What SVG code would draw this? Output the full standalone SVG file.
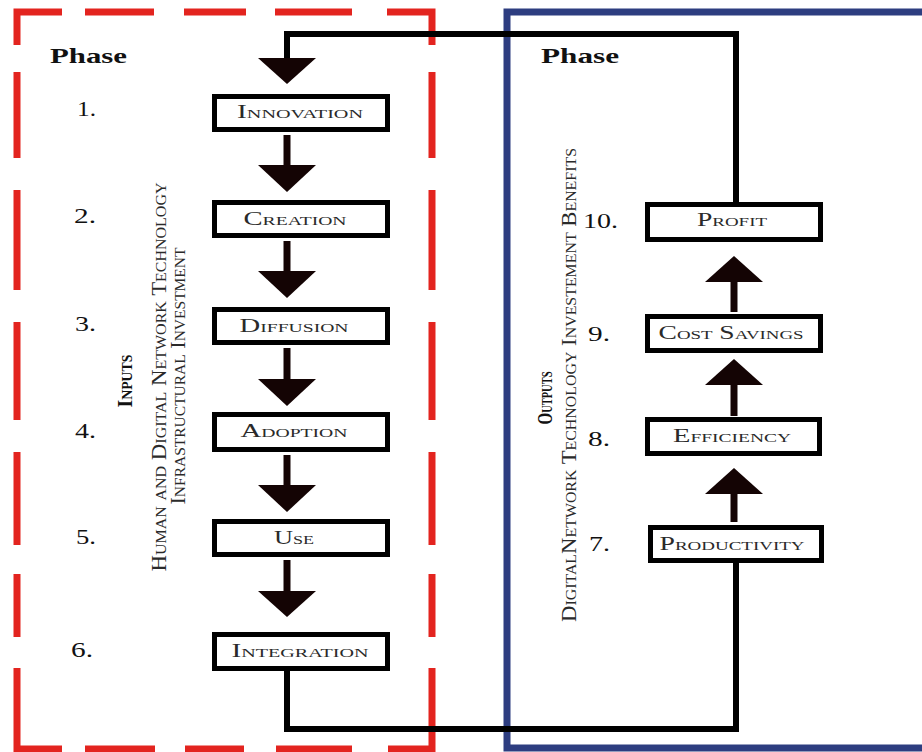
<svg xmlns="http://www.w3.org/2000/svg" width="922" height="752" viewBox="0 0 922 752">
<defs>
<style>
.frame-red{fill:none;stroke:#e3241f;stroke-width:7;}
.frame-blue{fill:none;stroke:#2d3d80;stroke-width:7;}
.box{fill:#fff;stroke:#000;stroke-width:5;}
.lbl{font-family:"Liberation Serif","Times New Roman",serif;font-variant:small-caps;font-size:19px;fill:#2a2a2a;text-anchor:middle;}
.num{font-family:"Liberation Serif","Times New Roman",serif;font-size:22px;fill:#111;}
.phase{font-family:"Liberation Serif","Times New Roman",serif;font-weight:bold;font-size:21px;fill:#111;}
.vt{font-family:"Liberation Serif","Times New Roman",serif;font-variant:small-caps;font-size:20px;fill:#2a2a2a;text-anchor:middle;}
.vtb{font-family:"Liberation Serif","Times New Roman",serif;font-variant:small-caps;font-weight:bold;font-size:20px;fill:#111;text-anchor:middle;}
.conn{fill:none;stroke:#000;stroke-width:6;}
.shaft{stroke:#140404;stroke-width:7;}
.head{fill:#140404;}
</style>
</defs>
<rect width="922" height="752" fill="#fff"/>

<g id="frames">
<path class="frame-red" d="M17 45 V12 H62 M85 12 H154 M184 12 H246 M275 12 H352 M387 12 H432 V45 M17 72 V158 M17 190 V290 M17 322 V420 M17 452 V545 M17 574 V637 M17 668 V749 H62 M85 749 H155 M185 749 H244 M276 749 H352 M388 749 H432 V668 M432 72 V158 M432 190 V290 M432 322 V420 M432 452 V545 M432 574 V637"/>
<path class="frame-blue" d="M930 12 H507 V748 H930"/>
</g>

<g id="labels">
<text class="phase" x="50" y="63" textLength="77" lengthAdjust="spacingAndGlyphs">Phase</text>
<text class="phase" x="541" y="63" textLength="78" lengthAdjust="spacingAndGlyphs">Phase</text>
<text class="num" x="77" y="116" textLength="19" lengthAdjust="spacingAndGlyphs">1.</text>
<text class="num" x="74" y="223" textLength="22" lengthAdjust="spacingAndGlyphs">2.</text>
<text class="num" x="75" y="331" textLength="21" lengthAdjust="spacingAndGlyphs">3.</text>
<text class="num" x="75" y="438" textLength="21" lengthAdjust="spacingAndGlyphs">4.</text>
<text class="num" x="76" y="544" textLength="20" lengthAdjust="spacingAndGlyphs">5.</text>
<text class="num" x="71" y="657" textLength="22" lengthAdjust="spacingAndGlyphs">6.</text>
<text class="num" x="583" y="228" textLength="35" lengthAdjust="spacingAndGlyphs">10.</text>
<text class="num" x="588" y="341" textLength="22" lengthAdjust="spacingAndGlyphs">9.</text>
<text class="num" x="588" y="446" textLength="22" lengthAdjust="spacingAndGlyphs">8.</text>
<text class="num" x="589" y="551" textLength="21" lengthAdjust="spacingAndGlyphs">7.</text>
<text class="vtb" transform="translate(132,381) rotate(-90)" textLength="53" lengthAdjust="spacingAndGlyphs">Inputs</text>
<text class="vt" transform="translate(166,377) rotate(-90)" textLength="389" lengthAdjust="spacingAndGlyphs">Human and Digital Network Technology</text>
<text class="vt" transform="translate(185,376) rotate(-90)" textLength="257" lengthAdjust="spacingAndGlyphs">Infrastructural Investment</text>
<text class="vtb" transform="translate(552,398) rotate(-90)" textLength="53" lengthAdjust="spacingAndGlyphs">Outputs</text>
<text class="vt" transform="translate(576,385) rotate(-90)" textLength="474" lengthAdjust="spacingAndGlyphs">DigitalNetwork Technology Investement Benefits</text>
</g>

<g id="connectors">
<path class="conn" d="M287 60 V34 H736 V202"/>
<path class="conn" d="M287 670 V729 H736 V563"/>
<polygon class="head" points="258,58 316,58 287,84"/>
<line class="shaft" x1="287" y1="135" x2="287" y2="166"/>
<polygon class="head" points="258,165 316,165 287,192"/>
<line class="shaft" x1="287" y1="241" x2="287" y2="272"/>
<polygon class="head" points="258,271 316,271 287,298"/>
<line class="shaft" x1="287" y1="348" x2="287" y2="380"/>
<polygon class="head" points="258,379 316,379 287,406"/>
<line class="shaft" x1="287" y1="455" x2="287" y2="486"/>
<polygon class="head" points="258,485 316,485 287,512"/>
<line class="shaft" x1="287" y1="560" x2="287" y2="592"/>
<polygon class="head" points="258,591 316,591 287,617"/>
<line class="shaft" x1="734" y1="522" x2="734" y2="493"/>
<polygon class="head" points="705,494 763,494 734,468"/>
<line class="shaft" x1="734" y1="416" x2="734" y2="384"/>
<polygon class="head" points="705,385 763,385 734,359"/>
<line class="shaft" x1="734" y1="312" x2="734" y2="281"/>
<polygon class="head" points="705,282 763,282 734,256"/>
</g>

<g id="n-innovation"><rect class="box" x="214.5" y="96.5" width="173" height="33"/><text class="lbl" x="300" y="118" textLength="126" lengthAdjust="spacingAndGlyphs">Innovation</text></g>
<g id="n-creation"><rect class="box" x="214.5" y="202.5" width="173" height="33"/><text class="lbl" x="295" y="225" textLength="103" lengthAdjust="spacingAndGlyphs">Creation</text></g>
<g id="n-diffusion"><rect class="box" x="214.5" y="309.5" width="173" height="33"/><text class="lbl" x="294" y="332" textLength="109" lengthAdjust="spacingAndGlyphs">Diffusion</text></g>
<g id="n-adoption"><rect class="box" x="214.5" y="414.5" width="173" height="35"/><text class="lbl" x="294" y="437" textLength="107" lengthAdjust="spacingAndGlyphs">Adoption</text></g>
<g id="n-use"><rect class="box" x="214.5" y="521.5" width="173" height="33"/><text class="lbl" x="294" y="544" textLength="40" lengthAdjust="spacingAndGlyphs">Use</text></g>
<g id="n-integration"><rect class="box" x="214.5" y="634.5" width="173" height="34"/><text class="lbl" x="300" y="657" textLength="137" lengthAdjust="spacingAndGlyphs">Integration</text></g>

<g id="n-profit"><rect class="box" x="647.5" y="204.5" width="173" height="35"/><text class="lbl" x="732" y="226" textLength="70" lengthAdjust="spacingAndGlyphs">Profit</text></g>
<g id="n-costsavings"><rect class="box" x="647.5" y="316.5" width="173" height="34"/><text class="lbl" x="731" y="339" textLength="145" lengthAdjust="spacingAndGlyphs">Cost Savings</text></g>
<g id="n-efficiency"><rect class="box" x="647.5" y="419.5" width="172" height="34"/><text class="lbl" x="732" y="442" textLength="118" lengthAdjust="spacingAndGlyphs">Efficiency</text></g>
<g id="n-productivity"><rect class="box" x="650.5" y="527.5" width="171" height="33"/><text class="lbl" x="732" y="550" textLength="145" lengthAdjust="spacingAndGlyphs">Productivity</text></g>
</svg>
